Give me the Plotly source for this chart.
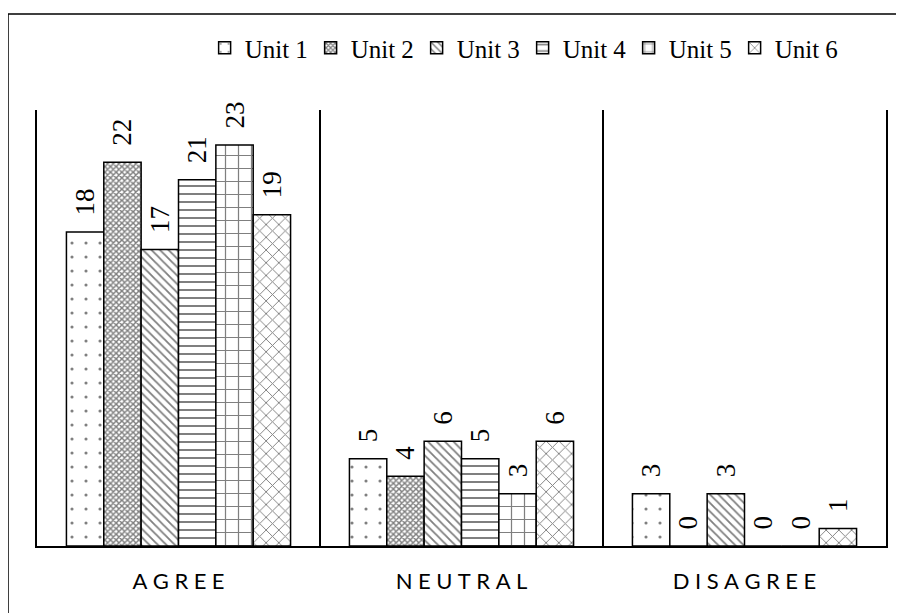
import plotly.graph_objects as go

categories = ["AGREE", "NEUTRAL", "DISAGREE"]
series_names = ["Unit 1", "Unit 2", "Unit 3", "Unit 4", "Unit 5", "Unit 6"]
unit1 = [18, 5, 3]
unit2 = [22, 4, 0]
unit3 = [17, 6, 3]
unit4 = [21, 5, 0]
unit5 = [23, 3, 0]
unit6 = [19, 6, 1]
series_values = [unit1, unit2, unit3, unit4, unit5, unit6]

patterns = [
    dict(shape=".", size=14, solidity=0.04),
    dict(shape="x", size=4, solidity=0.6),
    dict(shape="\\", size=6, solidity=0.3),
    dict(shape="-", size=8, solidity=0.25),
    dict(shape="+", size=13, solidity=0.18),
    dict(shape="x", size=9, solidity=0.2),
]

x_pos = list(range(len(categories)))
spaced = ["\u2005".join(list(c)) for c in categories]

fig = go.Figure()
for name, vals, pat in zip(series_names, series_values, patterns):
    fig.add_trace(go.Bar(
        name=name, x=x_pos, y=vals,
        text=["\u00a0\u00a0" + str(v) for v in vals],
        textposition="outside", textangle=-90,
        constraintext="none", cliponaxis=False,
        textfont=dict(family="Liberation Serif", size=27, color="black"),
        marker=dict(color="white", line=dict(color="black", width=1.5),
                    pattern=dict(fgcolor="black", bgcolor="white", fillmode="overlay", **pat)),
    ))

fig.update_layout(
    width=904, height=613,
    margin=dict(l=29, r=26, t=102, b=75),
    paper_bgcolor="white", plot_bgcolor="white",
    barmode="group", bargap=0.208, bargroupgap=0,
    showlegend=True,
    legend=dict(orientation="h", x=0.572, xanchor="center", y=1.142, yanchor="middle",
                font=dict(family="Liberation Serif", size=25, color="black"),
                itemwidth=30, entrywidth=61, entrywidthmode="pixels",
                tracegroupgap=0, bgcolor="rgba(0,0,0,0)"),
    xaxis=dict(range=[-0.5, 2.5], tickmode="array", tickvals=x_pos, ticktext=spaced,
               showgrid=False, zeroline=False, showline=True, linecolor="black", linewidth=1.5,
               ticks="", ticklabelstandoff=15,
               tickfont=dict(family="Lato", size=22, color="black"),
               minor=dict(tickmode="array", tickvals=[-0.5, 0.5, 1.5, 2.5], showgrid=True,
                          gridcolor="black", gridwidth=1.5, ticks="")),
    yaxis=dict(range=[0, 25], showticklabels=False, showgrid=False, zeroline=False,
               showline=True, mirror=True, linecolor="black", linewidth=1.5, ticks=""),
    shapes=[dict(type="rect", xref="paper", yref="paper",
                 x0=-29/849, x1=1.06, y0=-0.25, y1=(546-14)/436,
                 line=dict(color="black", width=1.5), fillcolor="rgba(0,0,0,0)", layer="above")],
)

fig.write_html("out.html")
